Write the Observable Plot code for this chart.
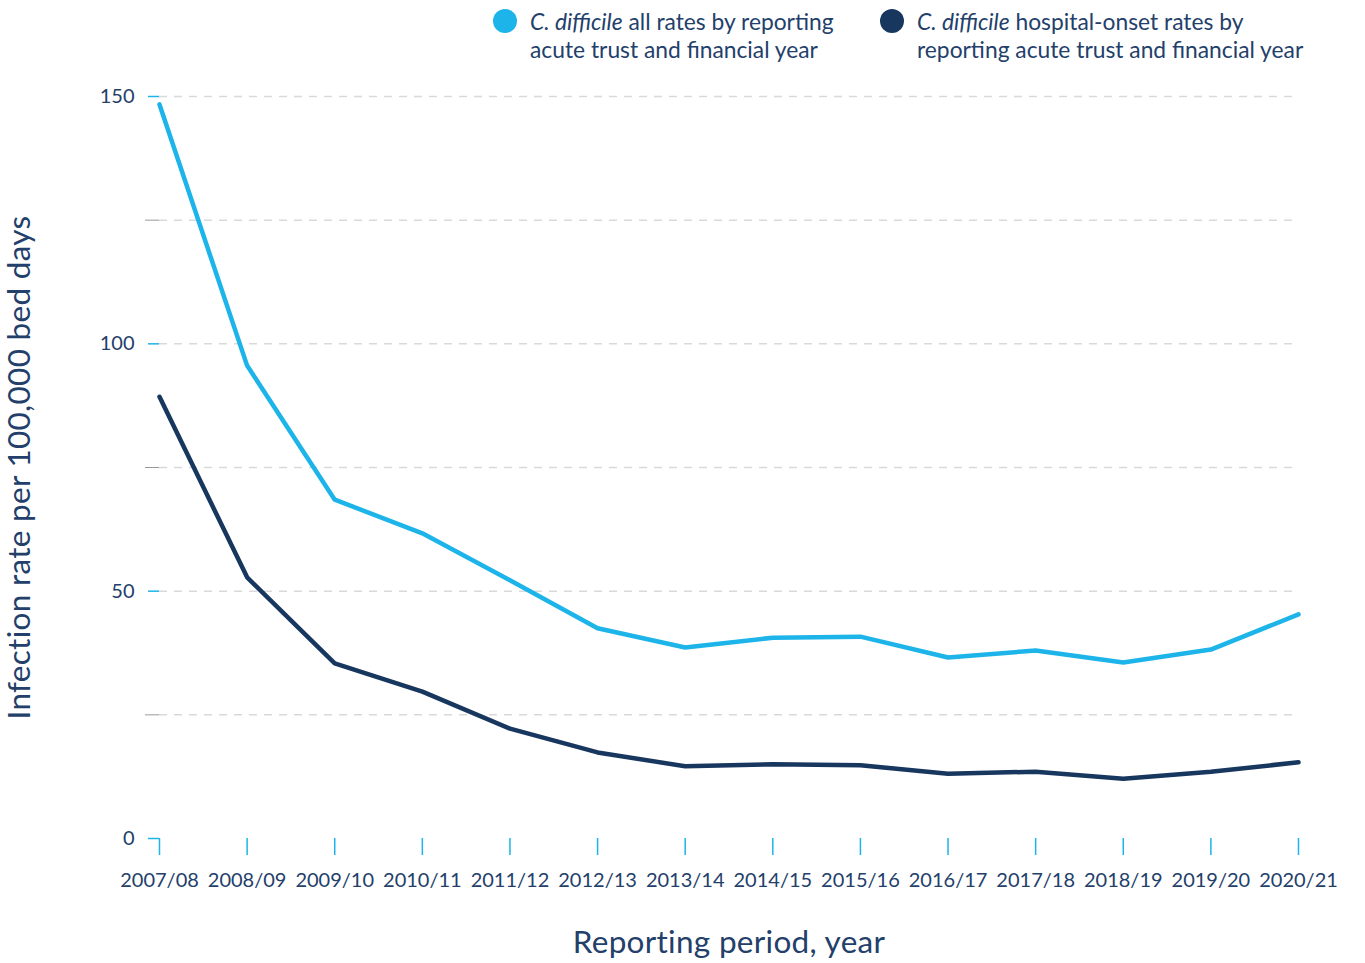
<!DOCTYPE html>
<html>
<head>
<meta charset="utf-8">
<script src="https://cdn.jsdelivr.net/npm/d3@7"></script>
<script src="https://cdn.jsdelivr.net/npm/@observablehq/plot@0.6"></script>
<style>
  body { margin: 0; background: white; font-family: Lato, "Open Sans", sans-serif; }
  #legend { position: relative; height: 70px; width: 1365px; color: #23406b; font-size: 22.8px; line-height: 28px; }
  .item { position: absolute; top: 7px; }
  .dot { position: absolute; top: 2px; width: 24px; height: 24px; border-radius: 50%; }
  .txt { position: absolute; left: 25px; top: 0; white-space: nowrap; }
</style>
</head>
<body>
<div id="legend">
  <div class="item" style="left:505px">
    <div class="dot" style="left:-12px;background:#1db4e9"></div>
    <div class="txt"><i>C. difficile</i> all rates by reporting<br>acute trust and financial year</div>
  </div>
  <div class="item" style="left:892px">
    <div class="dot" style="left:-12px;background:#17375f"></div>
    <div class="txt"><i>C. difficile</i> hospital-onset rates by<br>reporting acute trust and financial year</div>
  </div>
</div>
<div id="chart"></div>
<script>
const years = ["2007/08","2008/09","2009/10","2010/11","2011/12","2012/13","2013/14","2014/15","2015/16","2016/17","2017/18","2018/19","2019/20","2020/21"];
const allRates = [148.4, 95.6, 68.5, 61.7, 52.2, 42.5, 38.6, 40.6, 40.8, 36.6, 38.0, 35.6, 38.2, 45.3];
const hospitalRates = [89.3, 52.8, 35.4, 29.7, 22.2, 17.4, 14.6, 15.0, 14.8, 13.1, 13.5, 12.1, 13.5, 15.4];
const yTicksLabeled = [0, 50, 100, 150];
const yTicksMinor = [25, 75, 125];
const gridTicks = [25, 50, 75, 100, 125, 150];

const lightBlue = "#1db4e9";
const darkBlue = "#17375f";
const textColor = "#23406b";

const allData = years.map((y, i) => ({year: y, rate: allRates[i]}));
const hospData = years.map((y, i) => ({year: y, rate: hospitalRates[i]}));

const chart = Plot.plot({
  width: 1365,
  height: 893,
  marginTop: 26,
  marginBottom: 125,
  marginLeft: 159,
  marginRight: 67,
  x: {type: "point", domain: years, padding: 0, round: false},
  y: {domain: [0, 150]},
  style: {fontFamily: "Lato, 'Open Sans', sans-serif", color: textColor, background: "white"},
  marks: [
    Plot.gridY(gridTicks, {stroke: "#d9d9d9", strokeOpacity: 1, strokeWidth: 1.5, strokeDasharray: "8,7"}),
    Plot.axisY(yTicksMinor, {tickSize: 14, stroke: "#9a9a9a", tickFormat: () => "", label: null}),
    Plot.axisY(yTicksLabeled, {tickSize: 11, stroke: lightBlue, strokeWidth: 1.5, tickPadding: 14, fontSize: 20, fill: textColor,
      label: "Infection rate per 100,000 bed days", labelAnchor: "center", labelOffset: 152, labelArrow: "none"}),
    Plot.axisX({tickSize: 17, stroke: lightBlue, strokeWidth: 1.5, tickPadding: 17, fontSize: 20, fill: textColor,
      label: "Reporting period, year", labelAnchor: "center", labelOffset: 114, labelArrow: "none"}),
    Plot.line(allData, {x: "year", y: "rate", stroke: lightBlue, strokeWidth: 4.5}),
    Plot.line(hospData, {x: "year", y: "rate", stroke: darkBlue, strokeWidth: 4.5})
  ]
});
chart.querySelectorAll("g[aria-label='y-axis label'] text").forEach(t => { t.setAttribute("font-size", "31.5"); t.setAttribute("letter-spacing", "0.3"); });
chart.querySelectorAll("g[aria-label='x-axis label'] text").forEach(t => { t.setAttribute("font-size", "31.5"); t.setAttribute("letter-spacing", "0.3"); });
document.getElementById("chart").appendChild(chart);
</script>
</body>
</html>
